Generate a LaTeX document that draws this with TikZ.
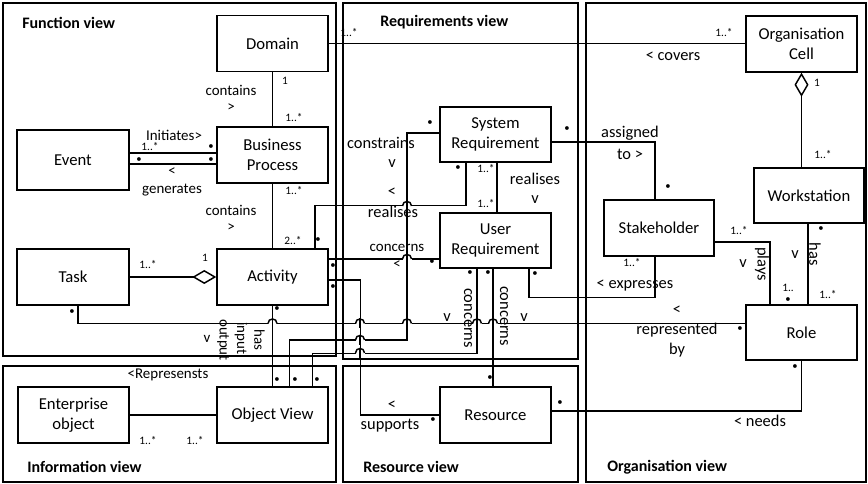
\documentclass[tikz,border=0pt]{standalone}
\usepackage{fontspec}
\setmainfont{Carlito}
\usetikzlibrary{arrows.meta,calc}
% line hop: a small arch where a horizontal connector passes over a vertical one
\newcommand{\hopover}[2]{%
  \fill[white] (#1-4.5,#2-1.7) rectangle (#1+4.5,#2+1.7);
  \draw[conn] (#1,#2-5) -- (#1,#2+5);
  \draw[conn] (#1-4.5,#2) .. controls (#1-4.5,#2-6) and (#1+4.5,#2-6) .. (#1+4.5,#2);}
\begin{document}
\begin{tikzpicture}[x=0.75pt,y=-0.75pt,
  panel/.style={draw, line width=1.1pt},
  box/.style={draw, line width=1.1pt, fill=white, minimum width=83.25pt, minimum height=42pt,
    align=center, inner sep=1pt, font=\fontsize{12.5}{15}\selectfont},
  conn/.style={line width=1.1pt},
  lbl/.style={font=\fontsize{12.3}{14}\selectfont, inner sep=0pt, align=center},
  lbls/.style={font=\fontsize{11.2}{13}\selectfont, inner sep=0pt, align=center},
  mult/.style={font=\fontsize{8.5}{9}\selectfont, inner sep=0pt},
  dotm/.style={font=\fontsize{8}{8}\selectfont, inner sep=0pt},
  title/.style={font=\bfseries\fontsize{12}{14}\selectfont, anchor=west, inner sep=0pt},
  agg/.style={-{Diamond[open,length=18pt,width=10.5pt,line width=1.1pt]}},
  aggs/.style={{Diamond[open,length=18pt,width=10.5pt,line width=1.1pt]}-},
]
\useasboundingbox (0,0) rectangle (868,484);
\fill[white] (0,0) rectangle (868,484);

% view panels
\draw[panel] (3,3) rectangle (336,356);
\draw[panel] (343,3) rectangle (578,359);
\draw[panel] (586,3) rectangle (866,482);
\draw[panel] (3,366) rectangle (336,482);
\draw[panel] (343,366) rectangle (578,482);

\node[title] (tf) at (22,23) {Function view};
\node[title] (tr) at (380,22) {Requirements view};
\node[title] (ti) at (27,467) {Information view};
\node[title] (tres) at (363,467) {Resource view};
\node[title] (to) at (607,467) {Organisation view};

% classes
\node[box] (Domain) at (272.5,43.5) {Domain};
\node[box] (BP) at (272.5,155) {Business\\Process};
\node[box, minimum width=84pt, minimum height=45pt] (Event) at (73,160) {Event};
\node[box, minimum width=84pt] (Task) at (73,277) {Task};
\node[box] (Activity) at (272.5,277) {Activity};
\node[box, minimum height=41.25pt] (SR) at (495.5,134.5) {System\\Requirement};
\node[box, minimum height=41.25pt] (UR) at (495.5,240.5) {User\\Requirement};
\node[box] (OrgCell) at (801.5,44) {Organisation\\Cell};
\node[box, minimum width=82.5pt, minimum height=41.25pt] (Workstation) at (809,195.5) {Workstation};
\node[box, minimum width=82.5pt] (Stakeholder) at (659,228) {Stakeholder};
\node[box, minimum height=41.25pt] (Role) at (801.5,332.5) {Role};
\node[box] (EntObj) at (73.5,415) {Enterprise\\object};
\node[box] (ObjView) at (272.5,415) {Object View};
\node[box] (Resource) at (495.5,415) {Resource};

% Domain covers / is covered by Organisation Cell
\draw[conn] (Domain.east) -- (Domain.east -| OrgCell.west);
% Domain contains Business Process
\draw[conn] (Domain.south) -- (BP.north);
% Event initiates / Business Process generates
\coordinate (ev1) at ($(Event.east)+(0,-7)$);
\coordinate (ev2) at ($(Event.east)+(0,4)$);
\draw[conn] (ev1) -- (ev1 -| BP.west);
\draw[conn] (ev2) -- (ev2 -| BP.west);
% Business Process contains Activity
\draw[conn] (BP.south) -- (Activity.north);
% Task is part of Activity
\draw[conn, agg] (Task.east) -- (Activity.west);
% Role represented by Task
\coordinate (tk1) at ($(Task.south)+(5,0)$);
\coordinate (rl1) at ($(Role.west)+(0,-9)$);
\draw[conn] (tk1) |- (rl1);
% Activity has input, output Object View
\draw[conn] (Activity.south) -- (ObjView.north);
% System Requirement constrains Object View
\coordinate (sr1) at ($(SR.west)+(0,-1.5)$);
\coordinate (cn1) at (407,340);
\coordinate (ov1) at ($(ObjView.north)+(17,0)$);
\draw[conn] (sr1) -| (cn1) -| (ov1);
% Activity realises System Requirement
\coordinate (ac1) at ($(Activity.north)+(42.5,0)$);
\coordinate (sr2) at ($(SR.south)+(-29.5,0)$);
\draw[conn] (ac1) -- ++(0,-43) -| (sr2);
% User Requirement concerns Activity
\coordinate (ac2) at ($(Activity.east)+(0,-18)$);
\draw[conn] (ac2) -- (ac2 -| UR.west);
% Resource supports Activity
\coordinate (ac3) at ($(Activity.east)+(0,3)$);
\draw[conn] (ac3) -- ++(32,0) |- (Resource.west);
% User Requirement concerns Object View
\coordinate (ur1) at ($(UR.south)+(-18.5,0)$);
\coordinate (ov2) at ($(ObjView.north)+(40,0)$);
\draw[conn] (ur1) -- ++(0,85) -| (ov2);
% User Requirement concerns Resource
\coordinate (ur2) at ($(UR.south)+(-2.5,0)$);
\draw[conn] (ur2) -- (ur2 |- Resource.north);
% System Requirement realises User Requirement
\coordinate (sr3) at ($(SR.south)+(1.5,0)$);
\draw[conn] (sr3) -- (sr3 |- UR.north);
% Stakeholder expresses User Requirement
\coordinate (ur3) at ($(UR.south)+(33.5,0)$);
\coordinate (sh1) at ($(Stakeholder.south)+(-4,0)$);
\draw[conn] (ur3) -- ++(0,29) -| (sh1);
% System Requirement assigned to Stakeholder
\coordinate (sr4) at ($(SR.east)+(0,7.5)$);
\coordinate (sh2) at ($(Stakeholder.north)+(-4,0)$);
\draw[conn] (sr4) -| (sh2);
% Stakeholder plays Role
\coordinate (sh3) at ($(Stakeholder.east)+(0,14)$);
\coordinate (rl2) at ($(Role.north)+(-31.5,0)$);
\draw[conn] (sh3) -| (rl2);
% Workstation has Role
\coordinate (ws1) at ($(Workstation.south)+(-1,0)$);
\draw[conn] (ws1) -- (ws1 |- Role.north);
% Organisation Cell aggregates Workstation
\draw[conn, aggs] (OrgCell.south) -- (OrgCell.south |- Workstation.north);
% Role needs Resource
\coordinate (rs1) at ($(Resource.east)+(0,-4)$);
\draw[conn] (Role.south) |- (rs1);
% Enterprise object represented by Object View
\draw[conn] (EntObj.east) -- (ObjView.west);

% hops over crossing connectors
\hopover{272.5}{323.5}
\hopover{360}{323.5}
\hopover{407}{323.5}
\hopover{477}{323.5}
\hopover{493}{323.5}
\hopover{360}{340}
\hopover{360}{353}
\hopover{407}{259}
\hopover{407}{206}

% multiplicities
\node[mult] (m1) at (349,33) {1..*};
\node[mult] (m2) at (724,33) {1..*};
\node[mult] (m3) at (285,81) {1};
\node[mult] (m4) at (294,118) {1..*};
\node[mult] (m5) at (150,147) {1..*};
\node[mult] (m6) at (294,191) {1..*};
\node[mult] (m7) at (293,241) {2..*};
\node[mult] (m8) at (148,265) {1..*};
\node[mult] (m9) at (205,258) {1};
\node[mult] (m10) at (486,169) {1..*};
\node[mult] (m11) at (486,204) {1..*};
\node[mult] (m12) at (148,441) {1..*};
\node[mult] (m13) at (195,441) {1..*};
\node[mult] (m14) at (817,83) {1};
\node[mult] (m15) at (823,155) {1..*};
\node[mult] (m16) at (632,263) {1..*};
\node[mult] (m17) at (739,231) {1..*};
\node[mult] (m18) at (788,288) {1..};
\node[mult] (m19) at (828,295) {1..*};

% many-ends
\foreach \px/\py [count=\i] in {211/147, 139/160, 211/160, 318/240, 333/266, 333/287, 72/312,
    277/309, 430/123, 458/168, 432/262, 470/273, 488/273, 535/274, 277/380, 295/380, 317/380,
    433/420, 490/378, 560/403, 795/367, 567/129, 668/187, 788/300, 821/229, 740/329}
  \node[dotm] (d\i) at (\px,\py) {•};

% association names and reading directions
\node[lbls] (n1) at (231,90) {contains};
\node[lbls] (n2) at (231,108) {>};
\node[lbls] (n3) at (174,135) {Initiates>};
\node[lbls] (n4) at (172,172) {<};
\node[lbls] (n5) at (172,190) {generates};
\node[lbls] (n6) at (231,210) {contains};
\node[lbls] (n7) at (231,228) {>};
\node[lbls, rotate=-90] (n8) at (241,340) {has\\input,\\output};
\node[lbls] (n9) at (207,339) {v};
\node[lbl] (n10) at (381,143) {constrains};
\node[lbl] (n11) at (392,164) {v};
\node[lbl] (n12) at (392,192) {<};
\node[lbl] (n13) at (393,212) {realises};
\node[lbl] (n14) at (535,179) {realises};
\node[lbl] (n15) at (535,200) {v};
\node[lbls] (n16) at (397,248) {concerns};
\node[lbls] (n17) at (397,265) {<};
\node[lbl, rotate=-90] (n18) at (468,318) {concerns};
\node[lbl, rotate=-90] (n19) at (504,316) {concerns};
\node[lbl] (n20) at (447,318) {v};
\node[lbl] (n21) at (524,318) {v};
\node[lbls] (n22) at (168,375) {<Represensts};
\node[lbl] (n23) at (392,405) {<};
\node[lbl] (n24) at (390,426) {supports};
\node[lbl] (n25) at (673,56) {< covers};
\node[lbl] (n26) at (630,133) {assigned};
\node[lbl] (n27) at (630,154) {to >};
\node[lbl] (n28) at (635,286) {< expresses};
\node[lbl] (n29) at (743,264) {v};
\node[lbl, rotate=-90] (n30) at (762,264) {plays};
\node[lbl, rotate=-90] (n31) at (815,254) {has};
\node[lbl] (n32) at (795,255) {v};
\node[lbl] (n33) at (677,310) {<};
\node[lbl] (n34) at (677,330) {represented};
\node[lbl] (n35) at (677,350) {by};
\node[lbl] (n36) at (760,421) {< needs};
\end{tikzpicture}
\end{document}
